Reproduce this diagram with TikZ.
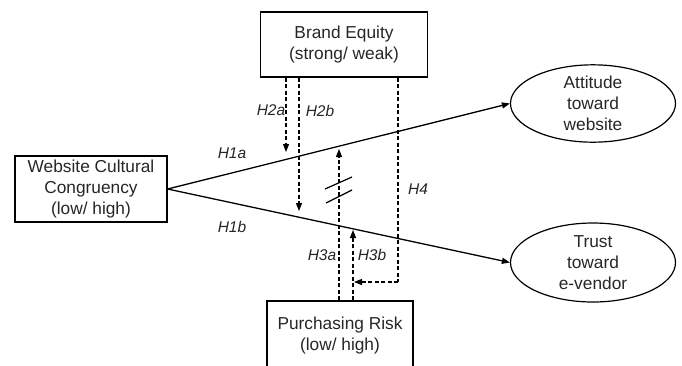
\documentclass[tikz,border=0pt]{standalone}
\usepackage{fontspec}
\setmainfont{Liberation Sans}
\usetikzlibrary{shapes.geometric,arrows.meta}
\begin{document}
\begin{tikzpicture}[x=1pt,y=-1pt,
  box/.style={draw,line width=1.2pt,inner sep=0pt,align=center,text=black!85,font=\fontsize{17.3}{21}\selectfont},
  oval/.style={draw,ellipse,line width=1.2pt,inner sep=0pt,align=center,text=black!85,font=\fontsize{17.3}{21}\selectfont},
  solidarrow/.style={line width=1.3pt,-{Triangle[length=8pt,width=6pt]}},
  dasharrow/.style={line width=1.1pt,dash pattern=on 4pt off 2.5pt,-{Triangle[length=8pt,width=6pt]}},
  dashline/.style={line width=1.1pt,dash pattern=on 4pt off 2.5pt},
  hlab/.style={font=\fontsize{15.5}{18}\selectfont\itshape,text=black!85,inner sep=0pt}]
\useasboundingbox (0,0) rectangle (682,365);
\node[box,minimum width=167pt,minimum height=65pt] (B) at (344,44.5) {Brand Equity\\(strong/ weak)};
\node[box,minimum width=152pt,minimum height=66pt] (W) at (91,189) {Website Cultural\\Congruency\\(low/ high)};
\node[box,minimum width=146pt,minimum height=69pt] (P) at (340,335.5) {Purchasing Risk\\(low/ high)};
\node[oval,minimum width=165pt,minimum height=77pt] (A) at (593,103.5) {Attitude\\toward\\website};
\node[oval,minimum width=165pt,minimum height=79pt] (T) at (593,262.5) {Trust\\toward\\e-vendor};
\draw[solidarrow] (W.east) -- (A.west);
\draw[solidarrow] (W.east) -- (T.west);
\coordinate (h2a) at (286,152);
\coordinate (h2b) at (299,211);
\coordinate (h3a) at (339,149);
\coordinate (h3b) at (353,230);
\coordinate (h4top) at (398,100);
\coordinate (h4corner) at (398,282);
\coordinate (h4end) at (354,282);
\draw[dasharrow] (B.south -| h2a) -- (h2a);
\draw[dasharrow] (B.south -| h2b) -- (h2b);
\draw[dasharrow] (P.north -| h3a) -- (h3a);
\draw[dasharrow] (P.north -| h3b) -- (h3b);
\draw[dashline] (B.south -| h4top) -- (h4corner);
\draw[dasharrow] (h4corner) -- (h4end);
\coordinate (s1a) at (325,189); \coordinate (s1b) at (352,177);
\coordinate (s2a) at (326,203); \coordinate (s2b) at (352,190);
\draw[line width=1.2pt] (s1a) -- (s1b);
\draw[line width=1.2pt] (s2a) -- (s2b);
\node[hlab] (l1a) at (232,153) {H1a};
\node[hlab] (l1b) at (232,227) {H1b};
\node[hlab] (l2a) at (271,110) {H2a};
\node[hlab] (l2b) at (320,111) {H2b};
\node[hlab] (l4) at (418,189) {H4};
\node[hlab] (l3a) at (322,255) {H3a};
\node[hlab] (l3b) at (372,255) {H3b};
\end{tikzpicture}
\end{document}
